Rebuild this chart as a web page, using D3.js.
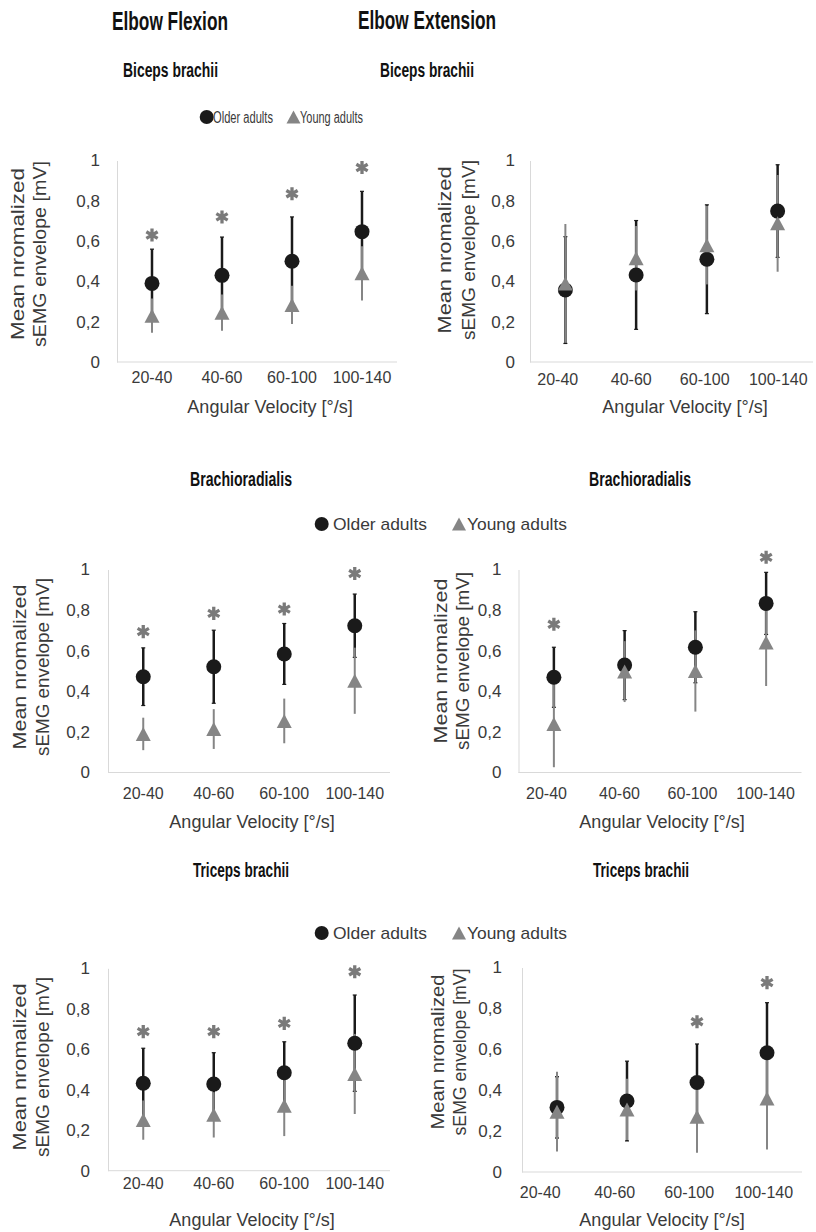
<!DOCTYPE html>
<html>
<head>
<meta charset="utf-8">
<script src="https://cdn.jsdelivr.net/npm/d3@7"></script>
<style>
body { margin: 0; background: #fff; }
svg { display: block; }
</style>
</head>
<body>
<div id="viz"></div>
<script>
// categories and ticks
var categories = ["20-40", "40-60", "60-100", "100-140"];
var yTicks = [0, 0.2, 0.4, 0.6, 0.8, 1];
var seriesNames = ["Older adults", "Young adults"];

// Elbow flexion - biceps brachii
var bbFlexOlder = [0.39, 0.43, 0.50, 0.647];
var bbFlexOlderErr = [0.17, 0.19, 0.22, 0.20];
var bbFlexYoung = [0.23, 0.245, 0.283, 0.44];
var bbFlexYoungErr = [0.085, 0.09, 0.095, 0.135];
var bbFlexStars = [0.63, 0.72, 0.835, 0.965];

// Elbow extension - biceps brachii
var bbExtOlder = [0.357, 0.432, 0.51, 0.749];
var bbExtOlderErr = [0.265, 0.27, 0.27, 0.23];
var bbExtYoung = [0.39, 0.515, 0.58, 0.688];
var bbExtYoungErr = [0.295, 0.16, 0.195, 0.24];
var bbExtStars = [null, null, null, null];

// Elbow flexion - brachioradialis
var brFlexOlder = [0.472, 0.521, 0.584, 0.723];
var brFlexOlderErr = [0.142, 0.18, 0.15, 0.156];
var brFlexYoung = [0.19, 0.214, 0.254, 0.452];
var brFlexYoungErr = [0.08, 0.098, 0.11, 0.163];
var brFlexStars = [0.694, 0.784, 0.805, 0.98];

// Elbow extension - brachioradialis
var brExtOlder = [0.469, 0.529, 0.617, 0.833];
var brExtOlderErr = [0.148, 0.17, 0.175, 0.153];
var brExtYoung = [0.239, 0.497, 0.50, 0.641];
var brExtYoungErr = [0.213, 0.15, 0.20, 0.215];
var brExtStars = [0.73, null, null, 1.06];

// Elbow flexion - triceps brachii
var tbFlexOlder = [0.432, 0.428, 0.484, 0.63];
var tbFlexOlderErr = [0.173, 0.155, 0.153, 0.238];
var tbFlexYoung = [0.25, 0.276, 0.321, 0.478];
var tbFlexYoungErr = [0.097, 0.112, 0.15, 0.198];
var tbFlexStars = [0.687, 0.687, 0.728, 0.983];

// Elbow extension - triceps brachii
var tbExtOlder = [0.316, 0.347, 0.438, 0.583];
var tbExtOlderErr = [0.15, 0.195, 0.188, 0.245];
var tbExtYoung = [0.295, 0.306, 0.27, 0.36];
var tbExtYoungErr = [0.195, 0.15, 0.176, 0.25];
var tbExtStars = [null, null, 0.735, 0.926];

var black = "#1a1a1a", grey = "#858585", axisGrey = "#d9d9d9", textGrey = "#3a3a3a";

// layout of the six panels (pixels)
var panels = [
    {older: bbFlexOlder, olderErr: bbFlexOlderErr, young: bbFlexYoung, youngErr: bbFlexYoungErr, stars: bbFlexStars,
     x: [117, 397], y: [362, 160.5], ypad: 17, xpad: 10, yl: [18, 40, 254], ylw: [172, 186], xt: [270, 407]},
    {older: bbExtOlder, olderErr: bbExtOlderErr, young: bbExtYoung, youngErr: bbExtYoungErr, stars: bbExtStars,
     x: [530, 813], labelX: [521, 815], y: [362, 160.5], ypad: 15, xpad: 12, yl: [445, 469, 250], ylw: [167, 180], xt: [685, 407]},
    {older: brFlexOlder, olderErr: brFlexOlderErr, young: brFlexYoung, youngErr: brFlexYoungErr, stars: brFlexStars,
     x: [108, 390], y: [772.5, 569.5], ypad: 18, xpad: 15, yl: [20, 43, 667], ylw: [165, 178], xt: [252, 822]},
    {older: brExtOlder, olderErr: brExtOlderErr, young: brExtYoung, youngErr: brExtYoungErr, stars: brExtStars,
     x: [518.5, 801.5], labelX: [510, 802], y: [772.5, 569.5], ypad: 17, xpad: 15, yl: [441, 463, 661], ylw: [165, 178], xt: [662, 822]},
    {older: tbFlexOlder, olderErr: tbFlexOlderErr, young: tbFlexYoung, youngErr: tbFlexYoungErr, stars: tbFlexStars,
     x: [108, 390], y: [1170.7, 968.3], ypad: 18, xpad: 7, yl: [20, 43, 1067], ylw: [167, 180], xt: [252, 1220]},
    {older: tbExtOlder, olderErr: tbExtOlderErr, young: tbExtYoung, youngErr: tbExtYoungErr, stars: tbExtStars,
     x: [522, 802], labelX: [503, 801], y: [1172, 967.5], ypad: 20, xpad: 15, yl: [438, 460, 1052], ylw: [155, 167], xt: [662, 1220]}
];

var svg = d3.select("#viz").append("svg")
    .attr("width", 816)
    .attr("height", 1232)
    .style("font-family", "'Liberation Sans', Arial, sans-serif");

var triangle = function(w, h){
    return "M0," + (-h / 2) + "L" + (w / 2) + "," + (h / 2) + "L" + (-w / 2) + "," + (h / 2) + "Z";
};

function drawPanel(p){
    var g = svg.append("g");
    var x = d3.scaleBand().domain(categories).range(p.x);
    var lx = d3.scaleBand().domain(categories).range(p.labelX || p.x);
    var y = d3.scaleLinear().domain([0, 1]).range(p.y);
    var cx = function(i){ return x(categories[i]) + x.bandwidth() / 2; };

    // x axis
    var xa = g.append("g")
        .attr("transform", "translate(0," + p.y[0] + ")")
        .call(d3.axisBottom(lx).tickSize(0).tickSizeOuter(0).tickPadding(p.xpad));
    xa.select(".domain").remove();
    xa.selectAll("text").style("font-size", "16px").attr("fill", textGrey);
    g.append("line")
        .attr("x1", x.range()[0]).attr("x2", x.range()[1])
        .attr("y1", y(0)).attr("y2", y(0))
        .attr("stroke", axisGrey).attr("stroke-width", 1);

    // y axis
    var ya = g.append("g")
        .attr("transform", "translate(" + p.x[0] + ",0)")
        .call(d3.axisLeft(y).tickValues(yTicks).tickSize(0).tickSizeOuter(0).tickPadding(p.ypad)
            .tickFormat(function(d){ return String(d).replace(".", ","); }));
    ya.select(".domain").attr("stroke", axisGrey);
    ya.selectAll("text").style("font-size", "17px").attr("fill", textGrey);

    // axis titles
    g.append("text")
        .attr("x", p.xt[0]).attr("y", p.xt[1])
        .attr("text-anchor", "middle").attr("dominant-baseline", "central")
        .style("font-size", "18px").attr("fill", textGrey)
        .text("Angular Velocity [°/s]");
    var yt = g.append("g")
        .attr("transform", "translate(0," + p.yl[2] + ") rotate(-90)");
    ["Mean nromalized", "sEMG envelope [mV]"].forEach(function(t, k){
        yt.append("text")
            .attr("x", -p.ylw[k] / 2).attr("y", p.yl[k])
            .attr("dominant-baseline", "central")
            .attr("textLength", p.ylw[k]).attr("lengthAdjust", "spacingAndGlyphs")
            .style("font-size", "18px").attr("fill", textGrey)
            .text(t);
    });

    var series = [
        {vals: p.older, errs: p.olderErr, color: black, w: 2.5, cap: 4},
        {vals: p.young, errs: p.youngErr, color: grey, w: 2, cap: 0}
    ];

    // error bars (older first, young on top)
    series.forEach(function(s){
        var eb = g.append("g").selectAll("g")
            .data(s.vals.map(function(v, i){ return {i: i, v: v, e: s.errs[i]}; }))
            .enter().append("g");
        eb.append("line")
            .attr("x1", function(d){ return cx(d.i); }).attr("x2", function(d){ return cx(d.i); })
            .attr("y1", function(d){ return y(Math.max(0, d.v - d.e)); })
            .attr("y2", function(d){ return y(d.v + d.e); })
            .attr("stroke", s.color).attr("stroke-width", s.w);
        if (s.cap) {
            [-1, 1].forEach(function(sign){
                eb.append("line")
                    .attr("x1", function(d){ return cx(d.i) - s.cap / 2; })
                    .attr("x2", function(d){ return cx(d.i) + s.cap / 2; })
                    .attr("y1", function(d){ return y(Math.max(0, d.v + sign * d.e)); })
                    .attr("y2", function(d){ return y(Math.max(0, d.v + sign * d.e)); })
                    .attr("stroke", s.color).attr("stroke-width", 1.2);
            });
        }
    });

    // markers
    g.append("g").selectAll("circle")
        .data(p.older).enter().append("circle")
        .attr("cx", function(d, i){ return cx(i); })
        .attr("cy", function(d){ return y(d); })
        .attr("r", 7.5)
        .attr("fill", black);
    g.append("g").selectAll("path")
        .data(p.young).enter().append("path")
        .attr("d", triangle(15, 14))
        .attr("transform", function(d, i){ return "translate(" + cx(i) + "," + y(d) + ")"; })
        .attr("fill", grey);

    // significance asterisks
    var star = d3.symbol().type(d3.symbolAsterisk).size(120);
    g.append("g").selectAll("path")
        .data(p.stars.map(function(v, i){ return {i: i, v: v}; }).filter(function(d){ return d.v !== null; }))
        .enter().append("path")
        .attr("d", star)
        .attr("transform", function(d){ return "translate(" + cx(d.i) + "," + y(d.v) + ")"; })
        .attr("fill", "none")
        .attr("stroke", "#7a7a7a")
        .attr("stroke-width", 3.3);
}

panels.forEach(drawPanel);

// headings (squeezed like the original figure)
var headings = [
    {t: "Elbow Flexion", x: 112, y: 30, w: 116, s: 25},
    {t: "Elbow Extension", x: 358, y: 29, w: 138, s: 25},
    {t: "Biceps brachii", x: 123, y: 77, w: 95, s: 20},
    {t: "Biceps brachii", x: 380, y: 77, w: 94, s: 20},
    {t: "Brachioradialis", x: 190, y: 486, w: 102, s: 20},
    {t: "Brachioradialis", x: 589, y: 486, w: 102, s: 20},
    {t: "Triceps brachii", x: 193, y: 877, w: 96, s: 20},
    {t: "Triceps brachii", x: 593, y: 877, w: 96, s: 20}
];
svg.selectAll("text.head").data(headings).enter().append("text")
    .attr("class", "head")
    .attr("x", function(d){ return d.x; })
    .attr("y", function(d){ return d.y; })
    .attr("textLength", function(d){ return d.w; })
    .attr("lengthAdjust", "spacingAndGlyphs")
    .style("font-size", function(d){ return d.s + "px"; })
    .style("font-weight", "bold")
    .attr("fill", "#111")
    .text(function(d){ return d.t; });

// legends
var legends = [
    {y: 117, c: 206.7, t1: [213, 60], tri: 293.5, t2: [300, 63], s: 16},
    {y: 524, c: 321.7, t1: [333, 94], tri: 459, t2: [467, 100], s: 17},
    {y: 933, c: 321.7, t1: [333, 94], tri: 459, t2: [467, 100], s: 17}
];
legends.forEach(function(l){
    var g = svg.append("g");
    g.append("circle").attr("cx", l.c).attr("cy", l.y).attr("r", 7).attr("fill", black);
    g.append("path").attr("d", triangle(14, 13))
        .attr("transform", "translate(" + l.tri + "," + l.y + ")").attr("fill", grey);
    [[seriesNames[0], l.t1], [seriesNames[1], l.t2]].forEach(function(e){
        g.append("text")
            .attr("x", e[1][0]).attr("y", l.y)
            .attr("dominant-baseline", "central")
            .attr("textLength", e[1][1]).attr("lengthAdjust", "spacingAndGlyphs")
            .style("font-size", l.s + "px").attr("fill", textGrey)
            .text(e[0]);
    });
});
</script>
</body>
</html>
